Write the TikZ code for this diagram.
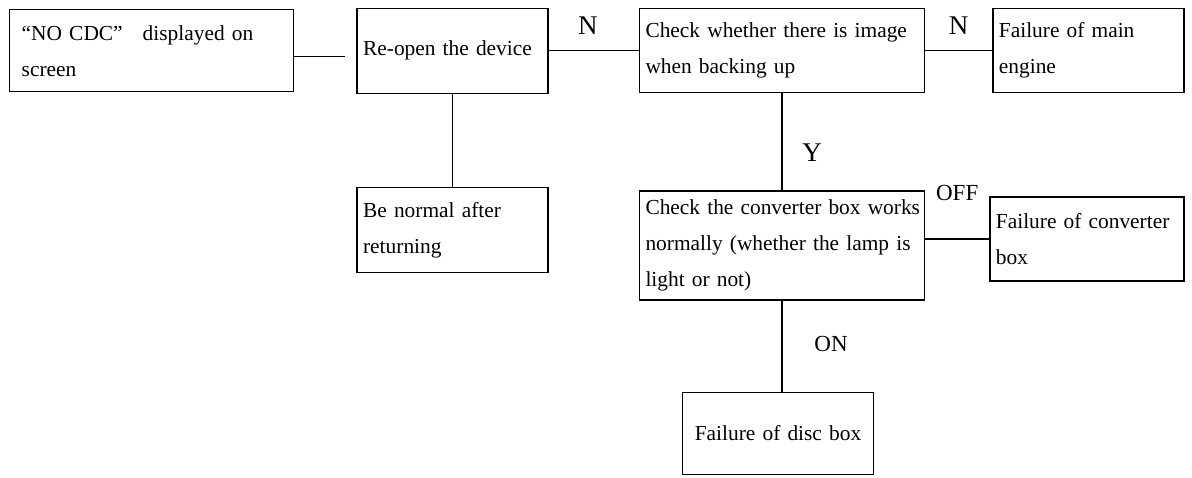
\documentclass[tikz,border=0pt]{standalone}
\usepackage{fontspec}
\setmainfont{Liberation Serif}
\usepackage{tikz}
\usetikzlibrary{positioning}

\tikzset{
    box/.style={draw, line width=0.7pt, inner xsep=3pt, inner ysep=0pt, align=left,
        font=\fontsize{10.7}{18}\selectfont},
    lbl/.style={inner sep=0pt, font=\fontsize{11.5}{12}\selectfont},
    yn/.style={lbl, font=\fontsize{13.5}{14}\selectfont},
    every edge/.style={draw, line width=0.7pt}
}

\begin{document}
\begin{tikzpicture}
    \useasboundingbox (0,0) rectangle (596pt,-238.5pt);

    \node[box, anchor=north west, inner xsep=6pt, text width=130pt, minimum height=41pt] (nocdc) at (4.5pt,-4.5pt)
        {“NO CDC”\hspace{10pt}displayed on\\screen};
    \node[box, text width=89.5pt, minimum height=42.5pt] (reopen) [right=31pt of nocdc] {Re-open the device};
    \node[box, text width=136.5pt, minimum height=42pt] (check) [right=45pt of reopen]
        {Check whether there is image\\when backing up};
    \node[box, text width=89.5pt, minimum height=42pt] (main) [right=33.5pt of check] {Failure of main\\engine};
    \node[box, text width=89.5pt, minimum height=42.5pt] (normal) [below=46.5pt of reopen] {Be normal after\\returning};
    \node[box, inner xsep=1.5pt, text width=139.5pt, minimum height=54.5pt] (conv) [below=48.5pt of check]
        {\hspace*{1.5pt}Check the converter box works\\\hspace*{1.5pt}normally (whether the lamp is\\\hspace*{1.5pt}light or not)};
    \node[box, text width=91pt, minimum height=42pt] (failconv) [right=32pt of conv, yshift=3.25pt]
        {Failure of converter\\box};
    \node[box, align=center, text width=89.5pt, minimum height=41pt] (disc) [below=45.5pt of conv, xshift=-2pt]
        {Failure of disc box};

    % loose end in front of the second box
    \coordinate (gap) at ([xshift=-5.5pt, yshift=-2.75pt]reopen.west);

    \path (nocdc.east |- gap) edge (gap)
      (reopen) edge node[yn, xshift=-3pt, yshift=12.5pt] {N} (check)
      (check) edge node[yn, yshift=12.5pt] {N} (main)
      (reopen) edge (normal)
      (check) edge node[yn, xshift=15pt, yshift=-5.25pt] {Y} (conv)
      (conv.east |- failconv.west) edge node[lbl, yshift=23pt] {OFF} (failconv.west)
      (conv.south) edge node[lbl, xshift=24.5pt, yshift=1.25pt] {ON} (conv.south |- disc.north);

\end{tikzpicture}
\end{document}
